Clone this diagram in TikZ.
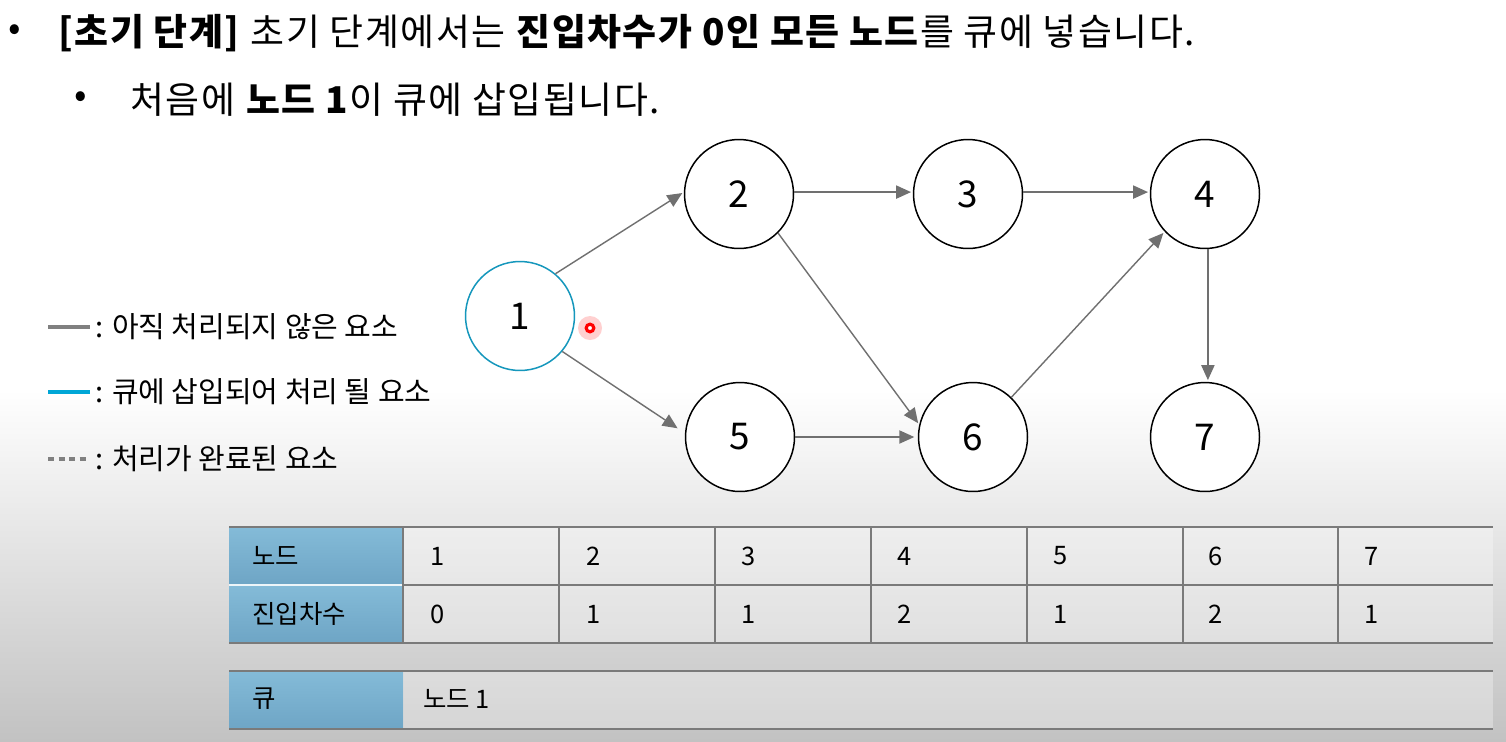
\documentclass[tikz,border=0pt]{standalone}
\usepackage{fontspec}
\setmainfont{Noto Sans CJK KR}
\usetikzlibrary{arrows.meta,calc}
\definecolor{edgegray}{HTML}{707070}
\definecolor{legendgray}{HTML}{808080}
\definecolor{legendblue}{HTML}{00A6D6}
\definecolor{nodeblue}{HTML}{1597BC}
\definecolor{bgbot}{HTML}{C2C2C2}
\definecolor{hdrtop}{HTML}{84BBD8}
\definecolor{hdrbot}{HTML}{6EA5C5}
\definecolor{linegray}{HTML}{7A7A7A}
\tikzset{
  gnode/.style={circle,draw=black,line width=0.85pt,fill=white,minimum size=2.18cm,inner sep=0pt,font=\fontsize{21}{21}\selectfont},
  edge/.style={draw=edgegray,line width=0.8pt,-{Triangle[length=8.5pt,width=7.5pt]},shorten >=1pt},
  legline/.style={line width=1.8pt},
  legtext/.style={anchor=west,inner sep=0pt,font=\fontsize{16.5}{16.5}\selectfont},
  titletext/.style={anchor=west,inner sep=0pt,font=\fontsize{21}{21}\selectfont\addfontfeatures{LetterSpace=4}},
  celltext/.style={anchor=west,inner sep=0pt,font=\fontsize{14.5}{14.5}\selectfont},
  hdrcell/.style={top color=hdrtop,bottom color=hdrbot,draw=none},
  tline/.style={draw=linegray,line width=1.1pt}
}
\begin{document}
\begin{tikzpicture}[x=0.02cm,y=-0.02cm]
\useasboundingbox (0,0) rectangle (1506,741);
\fill[white] (0,0) rectangle (1506,741);
\shade[top color=white,bottom color=bgbot] (0,390) rectangle (1506,741);

% title
\node[titletext] (b1) at (8,33) {•};
\node[titletext] (t1) at (58,33) {\textbf{[초기 단계]} 초기 단계에서는 \textbf{진입차수가 0인 모든 노드}를 큐에 넣습니다.};
\node[titletext] (b2) at (74,100) {•};
\node[titletext] (t2) at (130,100) {처음에 \textbf{노드 1}이 큐에 삽입됩니다.};

% legend
\coordinate (l1a) at (48,327); \coordinate (l1b) at (90,327);
\coordinate (l2a) at (48,392); \coordinate (l2b) at (90,392);
\coordinate (l3a) at (48,459); \coordinate (l3b) at (90,459);
\draw[legline,legendgray] (l1a) -- (l1b);
\draw[legline,legendblue] (l2a) -- (l2b);
\draw[legline,legendgray,dash pattern=on 3.5pt off 2.5pt] (l3a) -- (l3b);
\node[legtext] (lt1) at (95,327) {: 아직 처리되지 않은 요소};
\node[legtext] (lt2) at (95,392) {: 큐에 삽입되어 처리 될 요소};
\node[legtext] (lt3) at (95,459) {: 처리가 완료된 요소};

% graph
\node[gnode,draw=nodeblue] (n1) at (520,316) {1};
\node[gnode] (n2) at (739,194) {2};
\node[gnode] (n3) at (968,194) {3};
\node[gnode] (n4) at (1205,194) {4};
\node[gnode] (n5) at (740,437) {5};
\node[gnode] (n6) at (973,437) {6};
\node[gnode] (n7) at (1205,437) {7};

\draw[edge] (n1.50) -- (n2.178);
\draw[edge,shorten >=5pt] (n1.-40) -- (n5.176);
\draw[edge] (n2.2) -- (n3.178);
\draw[edge] (n3.2) -- (n4.178);
\draw[edge] (n2.-45) -- (n6.167);
\draw[edge,shorten >=2pt] (n5.0) -- (n6.180);
\draw[edge] (n6.46) -- (n4.-137);
\draw[edge] (n4.-87) -- (n7.87);

% pointer dot
\coordinate (ptr) at (590,328);
\fill[red!30,opacity=0.6] (ptr) circle (12);
\draw[red,line width=1.8pt,fill=white] (ptr) circle (3.8);

% table 1
\fill[hdrcell] (229,527) rectangle (403,585);
\fill[hdrcell] (229,585) rectangle (403,643);
\fill[white,opacity=0.3] (403,527) rectangle (1493,643);
\draw[white!85!hdrtop,line width=1pt] (229,585) -- (403,585);
\draw[tline] (229,527) -- (1493,527);
\draw[tline] (403,585) -- (1493,585);
\draw[tline] (229,643) -- (1493,643);
\foreach \x in {559,715,871,1027,1183,1338} {
  \draw[tline,line width=0.8pt] (\x,527) -- (\x,643);
}
\draw[linegray,line width=0.6pt] (403,527) -- (403,643);
\node[celltext] (h1) at (252,556) {노드};
\node[celltext] (h2) at (252,614) {진입차수};
\foreach \v [count=\i from 0] in {1,...,7} {
  \node[celltext] (c\v) at (403+\i*155.7+27,556) {\v};
}
\foreach \d [count=\i from 0] in {0,1,1,2,1,2,1} {
  \node[celltext] (d\i) at (403+\i*155.7+27,614) {\d};
}

% table 2 (queue)
\fill[hdrcell] (229,671) rectangle (403,729);
\fill[white,opacity=0.3] (403,671) rectangle (1493,729);
\draw[tline] (229,671) -- (1493,671);
\draw[tline] (229,729) -- (1493,729);
\node[celltext] (qh) at (252,699) {큐};
\node[celltext] (qv) at (423,699) {노드 1};
\end{tikzpicture}
\end{document}
